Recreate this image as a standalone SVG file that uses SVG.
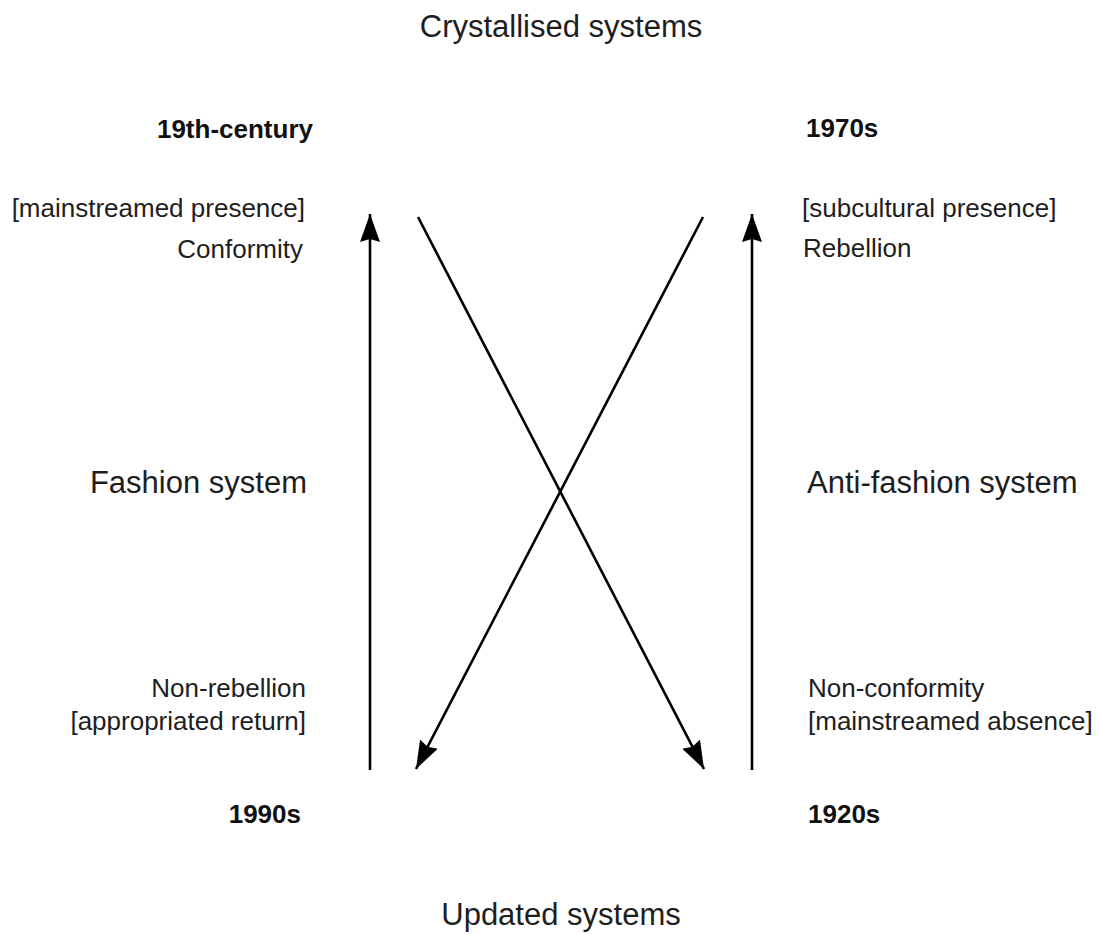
<svg xmlns="http://www.w3.org/2000/svg" width="1099" height="934" viewBox="0 0 1099 934">
<style>
.t{font-family:"Liberation Sans",Arial,sans-serif;fill:#1e1e1e;}
.s{font-size:26px;}
.b{font-size:26px;font-weight:bold;fill:#111;}
.m{font-size:31px;}
.l{stroke:#000;stroke-width:2.6;fill:none;}
</style>
<defs>
<marker id="a" viewBox="0 0 28 20" refX="28" refY="10" markerWidth="28" markerHeight="20" markerUnits="userSpaceOnUse" orient="auto">
<path d="M0,0 L28,10 L0,20 L3,10 z" fill="#000"/>
</marker>
</defs>
<rect width="1099" height="934" fill="#fff"/>
<g id="connectors">
<line class="l" x1="370" y1="770" x2="370" y2="214" marker-end="url(#a)"/>
<line class="l" x1="752" y1="770" x2="752" y2="214" marker-end="url(#a)"/>
<line class="l" x1="418" y1="217" x2="704" y2="769" marker-end="url(#a)"/>
<line class="l" x1="703" y1="217" x2="416" y2="769" marker-end="url(#a)"/>
</g>
<g id="title-top"><text class="t m" x="561" y="37" text-anchor="middle">Crystallised systems</text></g>
<g id="title-bottom"><text class="t m" x="561" y="925" text-anchor="middle">Updated systems</text></g>
<g id="n19th"><text class="t b" x="313" y="138" text-anchor="end">19th-century</text></g>
<g id="n1970s"><text class="t b" x="806" y="137">1970s</text></g>
<g id="n1990s"><text class="t b" x="301" y="823" text-anchor="end">1990s</text></g>
<g id="n1920s"><text class="t b" x="808" y="823">1920s</text></g>
<g id="conformity"><text class="t s" x="305" y="217" text-anchor="end">[mainstreamed presence]</text><text class="t s" x="303" y="258" text-anchor="end">Conformity</text></g>
<g id="rebellion"><text class="t s" x="802" y="217">[subcultural presence]</text><text class="t s" x="803" y="257">Rebellion</text></g>
<g id="fashion"><text class="t m" x="307" y="493" text-anchor="end">Fashion system</text></g>
<g id="antifashion"><text class="t m" x="807" y="493">Anti-fashion system</text></g>
<g id="nonrebellion"><text class="t s" x="306" y="697" text-anchor="end">Non-rebellion</text><text class="t s" x="306" y="730" text-anchor="end">[appropriated return]</text></g>
<g id="nonconformity"><text class="t s" x="808" y="697">Non-conformity</text><text class="t s" x="808" y="730">[mainstreamed absence]</text></g>
</svg>
